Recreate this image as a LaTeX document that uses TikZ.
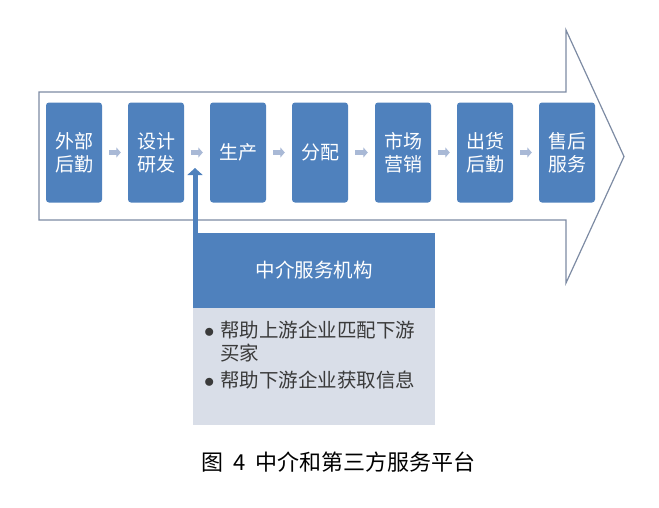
\documentclass[tikz,border=0pt]{standalone}
\usepackage{fontspec}
\setmainfont{Noto Sans CJK SC}
\usepackage{xcolor}
\usetikzlibrary{arrows.meta}
\usetikzlibrary{calc}

\definecolor{boxblue}{HTML}{4F81BD}
\definecolor{linegray}{HTML}{7D8BA3}
\definecolor{lightarrow}{HTML}{A9B9D6}
\definecolor{bodyfill}{HTML}{D9DEE8}
\definecolor{textgray}{HTML}{3A3A3A}

\begin{document}
\begin{tikzpicture}[x=1pt, y=-1pt,
    main/.style = {fill=boxblue, rounded corners=3pt, minimum width=56pt, minimum height=100pt, inner sep=0pt, text=white, align=center, font=\fontsize{19}{23}\selectfont},
    link/.style = {line width=5pt, draw=lightarrow, -{Triangle[width=10pt,length=4.5pt]}, shorten <=7pt, shorten >=7pt},
    uplink/.style = {line width=5pt, draw=boxblue, -{Triangle[width=15pt,length=7pt]}},
    head/.style = {fill=boxblue, minimum width=242pt, minimum height=75pt, inner sep=0pt, text=white, font=\fontsize{19.5}{23}\selectfont},
    body/.style = {fill=bodyfill, minimum width=242pt, minimum height=117pt, inner sep=0pt}]
    \useasboundingbox (0,0) rectangle (659,507);

    % big arrow outline
    \draw[linegray, line width=1.2pt, line join=miter] (39,92) -- (566,92) -- (566,30) -- (624,156.5) -- (566,283) -- (566,220) -- (39,220) -- cycle;

    \node [main] (1) at (74, 152.5) {外部\\后勤};
    \node [main] (2) at (156, 152.5) {设计\\研发};
    \node [main] (3) at (238, 152.5) {生产};
    \node [main] (4) at (320, 152.5) {分配};
    \node [main] (5) at (403, 152.5) {市场\\营销};
    \node [main] (6) at (485, 152.5) {出货\\后勤};
    \node [main] (7) at (567, 152.5) {售后\\服务};

    \draw[link] (1) to (2);
    \draw[link] (2) to (3);
    \draw[link] (3) to (4);
    \draw[link] (4) to (5);
    \draw[link] (5) to (6);
    \draw[link] (6) to (7);

    % intermediary box
    \node [head] (head) at (314, 270.5) {中介服务机构};
    \node [body, anchor=north] (body) at (head.south) {};
    \node [anchor=north west, inner sep=0pt, align=left, text=textgray, font=\fontsize{19.5}{23}\selectfont] (items) at ($(body.north west)+(11,13)$)
        {$\bullet$\hspace{6pt}帮助上游企业匹配下游\\\phantom{$\bullet$}\hspace{6pt}买家\\[4pt]$\bullet$\hspace{6pt}帮助下游企业获取信息};

    \coordinate (hook) at (195, 168);
    \draw[uplink] (head.north west -| hook) -- (hook);

    \node (caption) at (338.5, 462) {\fontsize{22}{26}\selectfont 图\hspace{10pt}4\hspace{10pt}中介和第三方服务平台};
\end{tikzpicture}
\end{document}
